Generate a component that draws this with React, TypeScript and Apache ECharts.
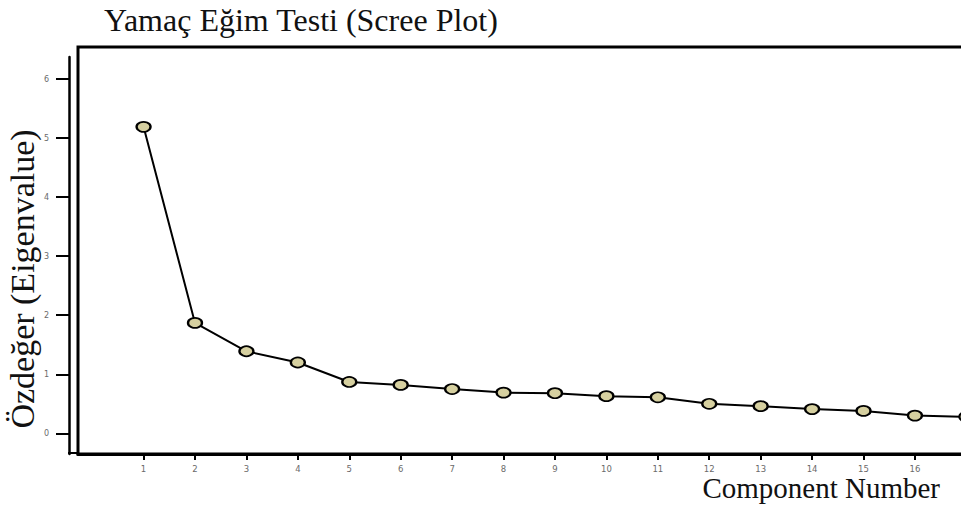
import React, { useEffect, useRef } from "react";
import * as echarts from "echarts";

const components = [1, 2, 3, 4, 5, 6, 7, 8, 9, 10, 11, 12, 13, 14, 15, 16, 17];
const eigenvalues = [5.19, 1.87, 1.39, 1.2, 0.87, 0.82, 0.75, 0.69, 0.68, 0.63, 0.61, 0.5, 0.46, 0.41, 0.38, 0.3, 0.28];
const xTickValues = components;
const yTickValues = [0, 1, 2, 3, 4, 5, 6];

const titleText = "Yamaç Eğim Testi (Scree Plot)";
const xTitle = "Component Number";
const yTitle = "Özdeğer (Eigenvalue)";

export default function App() {
  const ref = useRef<HTMLDivElement>(null);
  useEffect(() => {
    if (!ref.current) return;
    const chart = echarts.init(ref.current, null, { renderer: "svg" });
    const serif = "'Liberation Serif', 'Times New Roman', serif";
    chart.setOption({
      animation: false,
      backgroundColor: "#fff",
      grid: { left: 78, top: 57, right: 19, bottom: 64, containLabel: false },
      xAxis: {
        type: "value",
        min: -0.275,
        max: 17.09,
        splitLine: { show: false },
        axisLine: { show: true, onZero: false, lineStyle: { color: "#000", width: 3 } },
        axisTick: { show: true, customValues: xTickValues, length: 6, lineStyle: { color: "#000", width: 2 } },
        axisLabel: { customValues: xTickValues, color: "#6a6a6a", fontSize: 8.5, margin: 10, fontFamily: "DejaVu Sans" },
      },
      yAxis: {
        type: "value",
        min: -0.35,
        max: 6.373,
        offset: 9,
        splitLine: { show: false },
        axisLine: { show: true, onZero: false, lineStyle: { color: "#000", width: 2.5 } },
        axisTick: { show: true, customValues: yTickValues, length: 13, lineStyle: { color: "#000", width: 2 } },
        axisLabel: { customValues: yTickValues, color: "#6a6a6a", fontSize: 8, margin: 20, fontFamily: "DejaVu Sans" },
      },
      graphic: [
        {
          type: "rect",
          z: 0,
          shape: { x: 78, y: 47, width: 930, height: 407 },
          style: { fill: "none", stroke: "#000", lineWidth: 3 },
          silent: true,
        },
        {
          type: "line",
          shape: { x1: 68, y1: 453, x2: 78, y2: 453 },
          style: { stroke: "#000", lineWidth: 2 },
          silent: true,
        },
        {
          type: "text",
          x: 104,
          y: 20,
          style: { text: titleText, font: `32px ${serif}`, fill: "#111", textAlign: "left", textVerticalAlign: "middle" },
        },
        {
          type: "text",
          x: 940,
          y: 488,
          style: { text: xTitle, font: `29px ${serif}`, fill: "#111", textAlign: "right", textVerticalAlign: "middle" },
        },
        {
          type: "text",
          x: 22,
          y: 279,
          rotation: Math.PI / 2,
          style: { text: yTitle, font: `34px ${serif}`, fill: "#111", textAlign: "center", textVerticalAlign: "middle" },
        },
      ],
      series: [
        {
          type: "line",
          data: components.map((c, i) => [c, eigenvalues[i]]),
          symbol: "circle",
          symbolSize: [14, 10],
          showAllSymbol: true,
          lineStyle: { color: "#000", width: 2 },
          itemStyle: { color: "#d6d0a0", borderColor: "#000", borderWidth: 2 },
          z: 3,
        },
      ],
    });
    return () => chart.dispose();
  }, []);
  return (
    <div style={{ position: "absolute", left: 0, top: 0, width: 961, height: 518, overflow: "hidden" }}>
      <div ref={ref} style={{ width: 990, height: 518 }} />
    </div>
  );
}
